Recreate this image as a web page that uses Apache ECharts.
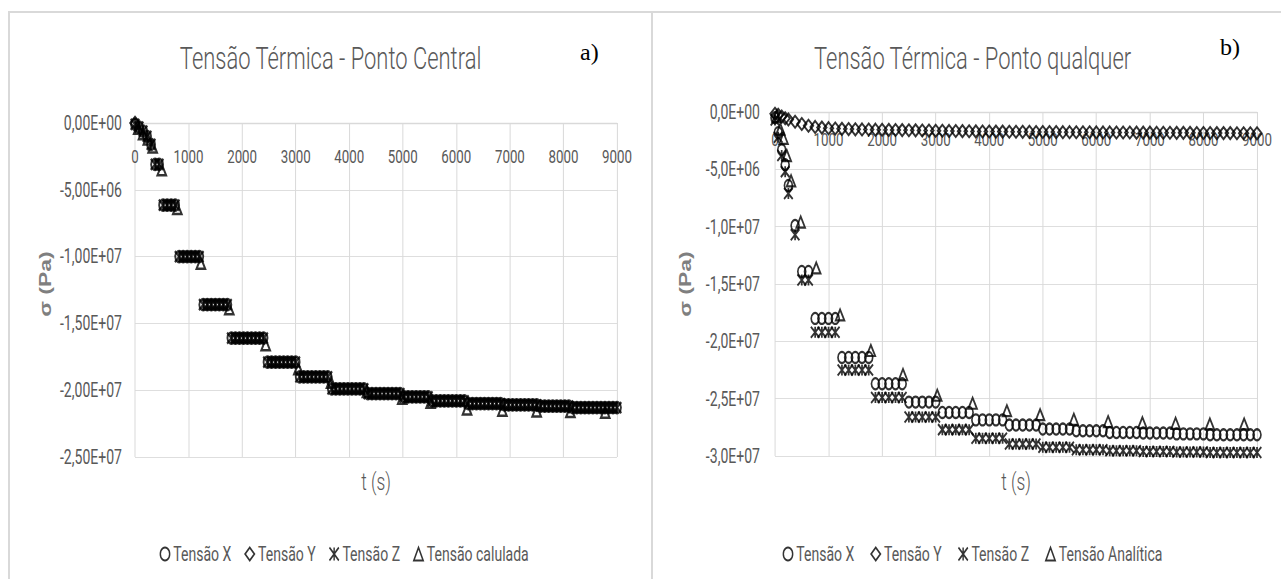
<!DOCTYPE html>
<html><head><meta charset="utf-8">
<script src="https://cdn.jsdelivr.net/npm/echarts@6/dist/echarts.min.js"></script>
<style>
html,body{margin:0;padding:0;background:#fff;overflow:hidden}
#wrap{width:1281px;height:579px;overflow:hidden;position:relative;background:#fff}
#c{width:1780px;height:579px;transform:scaleX(0.72);transform-origin:0 0;position:absolute;left:0;top:0}
</style></head><body><div id="wrap"><div id="c"></div></div>
<script>
// ---------- DATA : chart a) Ponto Central ----------
const timeA = [0,75,150,225,300,375,450,525,600,675,750,825,900,975,1050,1125,1200,1275,1350,1425,1500,1575,1650,1725,1800,1875,1950,2025,2100,2175,2250,2325,2400,2475,2550,2625,2700,2775,2850,2925,3000,3075,3150,3225,3300,3375,3450,3525,3600,3675,3750,3825,3900,3975,4050,4125,4200,4275,4350,4425,4500,4575,4650,4725,4800,4875,4950,5025,5100,5175,5250,5325,5400,5475,5550,5625,5700,5775,5850,5925,6000,6075,6150,6225,6300,6375,6450,6525,6600,6675,6750,6825,6900,6975,7050,7125,7200,7275,7350,7425,7500,7575,7650,7725,7800,7875,7950,8025,8100,8175,8250,8325,8400,8475,8550,8625,8700,8775,8850,8925,9000];
const tensaoXA = [
 -0.1e6,-0.3e6,-0.6e6,-1.0e6,-1.6e6,-3.1e6,-3.1e6,
 -6.15e6,-6.15e6,-6.15e6,-6.15e6,
 -1.0e7,-1.0e7,-1.0e7,-1.0e7,-1.0e7,-1.0e7,
 -1.36e7,-1.36e7,-1.36e7,-1.36e7,-1.36e7,-1.36e7,-1.36e7,
 -1.61e7,-1.61e7,-1.61e7,-1.61e7,-1.61e7,-1.61e7,-1.61e7,-1.61e7,-1.61e7,
 -1.79e7,-1.79e7,-1.79e7,-1.79e7,-1.79e7,-1.79e7,-1.79e7,-1.79e7,
 -1.90e7,-1.90e7,-1.90e7,-1.90e7,-1.90e7,-1.90e7,-1.90e7,-1.90e7,
 -1.99e7,-1.99e7,-1.99e7,-1.99e7,-1.99e7,-1.99e7,-1.99e7,-1.99e7,-1.99e7,
 -2.025e7,-2.025e7,-2.025e7,-2.025e7,-2.025e7,-2.025e7,-2.025e7,-2.025e7,-2.025e7,
 -2.05e7,-2.05e7,-2.05e7,-2.05e7,-2.05e7,-2.05e7,-2.05e7,
 -2.08e7,-2.08e7,-2.08e7,-2.08e7,-2.08e7,-2.08e7,-2.08e7,-2.08e7,-2.08e7,
 -2.10e7,-2.10e7,-2.10e7,-2.10e7,-2.10e7,-2.10e7,-2.10e7,-2.10e7,-2.10e7,
 -2.11e7,-2.11e7,-2.11e7,-2.11e7,-2.11e7,-2.11e7,-2.11e7,-2.11e7,-2.11e7,
 -2.12e7,-2.12e7,-2.12e7,-2.12e7,-2.12e7,-2.12e7,-2.12e7,-2.12e7,
 -2.13e7,-2.13e7,-2.13e7,-2.13e7,-2.13e7,-2.13e7,-2.13e7,-2.13e7,-2.13e7,
 -2.13e7,-2.13e7,-2.13e7];
const tensaoYA = [
 0,0.05e6,0.1e6,0.1e6,0.1e6,0.1e6,0.1e6,0.1e6,0.1e6,0.1e6,0.1e6,0.1e6,0.1e6,0.1e6,0.1e6,0.1e6,0.1e6,0.1e6,0.1e6,0.1e6,
 0.1e6,0.1e6,0.1e6,0.1e6,0.1e6,0.1e6,0.1e6,0.1e6,0.1e6,0.1e6,0.1e6,0.1e6,0.1e6,0.1e6,0.1e6,0.1e6,0.1e6,0.1e6,0.1e6,0.1e6,
 0.1e6,0.1e6,0.1e6,0.1e6,0.1e6,0.1e6,0.1e6,0.1e6,0.1e6,0.1e6,0.1e6,0.1e6,0.1e6,0.1e6,0.1e6,0.1e6,0.1e6,0.1e6,0.1e6,0.1e6,
 0.1e6,0.1e6,0.1e6,0.1e6,0.1e6,0.1e6,0.1e6,0.1e6,0.1e6,0.1e6,0.1e6,0.1e6,0.1e6,0.1e6,0.1e6,0.1e6,0.1e6,0.1e6,0.1e6,0.1e6,
 0.1e6,0.1e6,0.1e6,0.1e6,0.1e6,0.1e6,0.1e6,0.1e6,0.1e6,0.1e6,0.1e6,0.1e6,0.1e6,0.1e6,0.1e6,0.1e6,0.1e6,0.1e6,0.1e6,0.1e6,
 0.1e6,0.1e6,0.1e6,0.1e6,0.1e6,0.1e6,0.1e6,0.1e6,0.1e6,0.1e6,0.1e6,0.1e6,0.1e6,0.1e6,0.1e6,0.1e6,0.1e6,0.1e6,0.1e6,0.1e6,
 0.1e6];
const tensaoZA = tensaoXA.slice();
const timeCalcA = [60,150,240,330,500,790,1230,1760,2440,3050,3660,4330,4990,5520,6200,6860,7500,8130,8780];
const tensaoCalcA = [-0.4e6,-0.8e6,-1.2e6,-1.8e6,-3.5e6,-6.4e6,-1.05e7,-1.39e7,-1.66e7,-1.84e7,-1.94e7,-2.01e7,-2.06e7,-2.09e7,-2.14e7,-2.15e7,-2.155e7,-2.16e7,-2.165e7];

// ---------- DATA : chart b) Ponto qualquer ----------
const timeB = [0,60,125,190,250,375,500,625,750,875,1000,1125,1250,1375,1500,1625,1750,1875,2000,2125,2250,2375,2500,2625,2750,2875,3000,3125,3250,3375,3500,3625,3750,3875,4000,4125,4250,4375,4500,4625,4750,4875,5000,5125,5250,5375,5500,5625,5750,5875,6000,6125,6250,6375,6500,6625,6750,6875,7000,7125,7250,7375,7500,7625,7750,7875,8000,8125,8250,8375,8500,8625,8750,8875,9000];
const tensaoXB = [
 -0.5e6,-1.8e6,-3.3e6,-4.6e6,-6.4e6,-9.9e6,
 -1.39e7,-1.39e7,
 -1.80e7,-1.80e7,-1.80e7,-1.80e7,
 -2.14e7,-2.14e7,-2.14e7,-2.14e7,-2.14e7,
 -2.37e7,-2.37e7,-2.37e7,-2.37e7,-2.37e7,
 -2.53e7,-2.53e7,-2.53e7,-2.53e7,-2.53e7,
 -2.62e7,-2.62e7,-2.62e7,-2.62e7,-2.62e7,
 -2.685e7,-2.685e7,-2.685e7,-2.685e7,-2.685e7,
 -2.73e7,-2.73e7,-2.73e7,-2.73e7,-2.73e7,
 -2.765e7,-2.765e7,-2.765e7,-2.765e7,-2.765e7,
 -2.78e7,-2.78e7,-2.78e7,-2.78e7,-2.78e7,
 -2.795e7,-2.795e7,-2.795e7,-2.795e7,-2.795e7,
 -2.80e7,-2.80e7,-2.80e7,-2.80e7,-2.80e7,
 -2.807e7,-2.807e7,-2.807e7,-2.807e7,-2.807e7,
 -2.815e7,-2.815e7,-2.815e7,-2.815e7,-2.815e7,-2.815e7,-2.815e7,-2.815e7];
const tensaoYB = [
 -0.15e6,-0.25e6,-0.4e6,-0.55e6,-0.65e6,-0.85e6,-1.05e6,-1.2e6,-1.3e6,-1.36e6,-1.41e6,-1.44e6,-1.47e6,-1.49e6,-1.51e6,
 -1.52e6,-1.53e6,-1.54e6,-1.55e6,-1.56e6,-1.57e6,-1.58e6,-1.59e6,-1.60e6,-1.61e6,-1.62e6,-1.63e6,
 -1.64e6,-1.65e6,-1.66e6,-1.67e6,-1.68e6,-1.69e6,-1.70e6,-1.70e6,-1.71e6,-1.71e6,-1.72e6,-1.72e6,-1.73e6,-1.73e6,
 -1.74e6,-1.74e6,-1.75e6,-1.75e6,-1.76e6,-1.76e6,-1.77e6,-1.77e6,-1.77e6,-1.78e6,-1.78e6,-1.78e6,-1.79e6,-1.79e6,
 -1.79e6,-1.80e6,-1.80e6,-1.80e6,-1.81e6,-1.81e6,-1.81e6,-1.82e6,-1.82e6,-1.82e6,-1.83e6,-1.83e6,-1.83e6,-1.84e6,
 -1.84e6,-1.84e6,-1.85e6,-1.85e6,-1.85e6,-1.86e6];
const tensaoZB = [
 -0.7e6,-2.2e6,-3.8e6,-5.2e6,-7.1e6,-1.07e7,
 -1.465e7,-1.465e7,
 -1.92e7,-1.92e7,-1.92e7,-1.92e7,
 -2.25e7,-2.25e7,-2.25e7,-2.25e7,-2.25e7,
 -2.49e7,-2.49e7,-2.49e7,-2.49e7,-2.49e7,
 -2.66e7,-2.66e7,-2.66e7,-2.66e7,-2.66e7,
 -2.77e7,-2.77e7,-2.77e7,-2.77e7,-2.77e7,
 -2.845e7,-2.845e7,-2.845e7,-2.845e7,-2.845e7,
 -2.895e7,-2.895e7,-2.895e7,-2.895e7,-2.895e7,
 -2.923e7,-2.923e7,-2.923e7,-2.923e7,-2.923e7,
 -2.945e7,-2.945e7,-2.945e7,-2.945e7,-2.945e7,
 -2.955e7,-2.955e7,-2.955e7,-2.955e7,-2.955e7,
 -2.96e7,-2.96e7,-2.96e7,-2.96e7,-2.96e7,
 -2.965e7,-2.965e7,-2.965e7,-2.965e7,-2.965e7,
 -2.97e7,-2.97e7,-2.97e7,-2.97e7,-2.97e7,-2.97e7,-2.97e7,-2.97e7];
const timeCalcB = [30,100,160,220,300,480,770,1215,1790,2390,3030,3690,4330,4950,5580,6220,6860,7480,8120,8760];
const tensaoCalcB = [-0.4e6,-1.5e6,-2.3e6,-3.8e6,-6.0e6,-9.6e6,-1.36e7,-1.77e7,-2.08e7,-2.29e7,-2.47e7,-2.54e7,-2.605e7,-2.64e7,-2.68e7,-2.70e7,-2.71e7,-2.715e7,-2.72e7,-2.72e7];

// ---------- tick labels ----------
const xTickLabels = ['0','1000','2000','3000','4000','5000','6000','7000','8000','9000'];
const yTickLabelsA = ['0,00E+00','-5,00E+06','-1,00E+07','-1,50E+07','-2,00E+07','-2,50E+07'];
const yTickLabelsB = ['0,0E+00','-5,0E+06','-1,0E+07','-1,5E+07','-2,0E+07','-2,5E+07','-3,0E+07'];
const namesA = ['Tensão X','Tensão Y','Tensão Z','Tensão calulada'];
const namesB = ['Tensão X','Tensão Y','Tensão Z','Tensão Analítica'];

// ---------- layout ----------
const S = 0.72;               // horizontal squeeze of the reference
const X = v => v / S;         // real px -> pre-squeeze px
const GRAY = '#595959', GRID = '#d9d9d9';
const FONT = 'Roboto, "Open Sans", sans-serif';
const zip = (t, v) => t.map((x, i) => [x, v[i]]);
const ASTER = 'path://M0,0L10,10M10,0L0,10M5,0L5,10';

function mkSeries(idx, names, tx, vx, vy, vz, tc, vc, bw) {
  const base = { type:'scatter', xAxisIndex:idx, yAxisIndex:idx, silent:true, animation:false };
  const st = { color:'rgba(0,0,0,0)', borderColor:'#000', borderWidth:bw };
  return [
    Object.assign({}, base, { name:names[0], symbol:'circle', symbolSize:[11,11], itemStyle:st, data:zip(tx, vx) }),
    Object.assign({}, base, { name:names[1], symbol:'diamond', symbolSize:[13,12], itemStyle:st, data:zip(tx, vy) }),
    Object.assign({}, base, { name:names[2], symbol:ASTER, symbolSize:[12,11], itemStyle:st, data:zip(tx, vz) }),
    Object.assign({}, base, { name:names[3], symbol:'triangle', symbolSize:[12,11], itemStyle:st, data:zip(tc, vc) })
  ];
}

function xAxisCfg(idx, margin) {
  return {
    type:'value', gridIndex:idx, min:0, max:9000, interval:1000, position:'top',
    axisLine:{ show:true, onZero:false, lineStyle:{ color:GRID, width:1.4 } },
    axisTick:{ show:false },
    splitLine:{ show:true, lineStyle:{ color:GRID, width:1.4 } },
    axisLabel:{ inside:true, color:GRAY, fontFamily:FONT, fontSize:18.5, fontWeight:400, margin:margin,
      formatter: v => xTickLabels[Math.round(v / 1000)] }
  };
}
function yAxisCfg(idx, min, labels, margin) {
  return {
    type:'value', gridIndex:idx, min:min, max:0, interval:5e6,
    axisLine:{ show:false }, axisTick:{ show:false },
    splitLine:{ show:true, lineStyle:{ color:GRID, width:1 } },
    axisLabel:{ color:GRAY, fontFamily:FONT, fontSize:19.5, fontWeight:400, margin:margin,
      formatter: v => labels[Math.round(-v / 5e6)] }
  };
}
function txt(x, y, text, size, opts) {
  return Object.assign({ type:'text', x:x, y:y, silent:true,
    style:Object.assign({ text:text, fill:GRAY, fontSize:size, fontFamily:FONT, fontWeight:300 }, opts || {}) });
}

const chart = echarts.init(document.getElementById('c'), null, { renderer:'svg' });
chart.setOption({
  backgroundColor:'#fff',
  animation:false,
  title:[
    { text:'Tensão Térmica - Ponto Central', left:X(327), top:38, textAlign:'center',
      textStyle:{ color:GRAY, fontFamily:FONT, fontSize:30.5, fontWeight:300 } },
    { text:'Tensão Térmica - Ponto qualquer', left:X(969), top:38, textAlign:'center',
      textStyle:{ color:GRAY, fontFamily:FONT, fontSize:30.5, fontWeight:300 } }
  ],
  grid:[
    { left:X(135), top:123, width:X(617-135), height:334 },
    { left:X(775), top:112, width:X(1257-775), height:344 }
  ],
  xAxis:[ xAxisCfg(0, 24), xAxisCfg(1, 18) ],
  yAxis:[ yAxisCfg(0, -2.5e7, yTickLabelsA, X(13)), yAxisCfg(1, -3e7, yTickLabelsB, X(15)) ],
  legend:[
    { data:namesA.slice(), left:X(156), top:539, itemWidth:13, itemHeight:13, itemGap:X(13),
      textStyle:{ color:GRAY, fontFamily:FONT, fontSize:19.5, fontWeight:400 }, selectedMode:false },
    { data:namesB.slice(), left:X(779), top:539, itemWidth:13, itemHeight:13, itemGap:X(16),
      textStyle:{ color:GRAY, fontFamily:FONT, fontSize:19.5, fontWeight:400 }, selectedMode:false }
  ],
  graphic:[
    { type:'line', shape:{ x1:X(8), y1:12, x2:X(1281), y2:12 }, style:{ stroke:GRID, lineWidth:2 }, silent:true },
    { type:'line', shape:{ x1:X(9), y1:12, x2:X(9), y2:579 }, style:{ stroke:GRID, lineWidth:2.8 }, silent:true },
    { type:'line', shape:{ x1:X(652), y1:12, x2:X(652), y2:579 }, style:{ stroke:GRID, lineWidth:2.8 }, silent:true },
    Object.assign(txt(X(580), 40, 'a)', 24, { fill:'#000', fontFamily:'"Liberation Serif", "Times New Roman", serif', fontWeight:400 }), { scaleX:1/S }),
    Object.assign(txt(X(1220), 35, 'b)', 24, { fill:'#000', fontFamily:'"Liberation Serif", "Times New Roman", serif', fontWeight:400 }), { scaleX:1/S }),
    txt(X(376), 482, 't (s)', 24, { textAlign:'center', textVerticalAlign:'middle' }),
    txt(X(1016), 482, 't (s)', 24, { textAlign:'center', textVerticalAlign:'middle' }),
    Object.assign(txt(X(45), 284, 'σ (Pa)', 23, { fill:'#7f7f7f', fontFamily:'"Liberation Sans", Arial, sans-serif', fontWeight:'bold', textAlign:'center', textVerticalAlign:'middle' }), { rotation:Math.PI/2 }),
    Object.assign(txt(X(685), 284, 'σ (Pa)', 23, { fill:'#7f7f7f', fontFamily:'"Liberation Sans", Arial, sans-serif', fontWeight:'bold', textAlign:'center', textVerticalAlign:'middle' }), { rotation:Math.PI/2 })
  ],
  series:[].concat(
    mkSeries(0, namesA, timeA, tensaoXA, tensaoYA, tensaoZA, timeCalcA, tensaoCalcA, 2.6),
    mkSeries(1, namesB, timeB, tensaoXB, tensaoYB, tensaoZB, timeCalcB, tensaoCalcB, 2.3)
  )
});
</script></body></html>
